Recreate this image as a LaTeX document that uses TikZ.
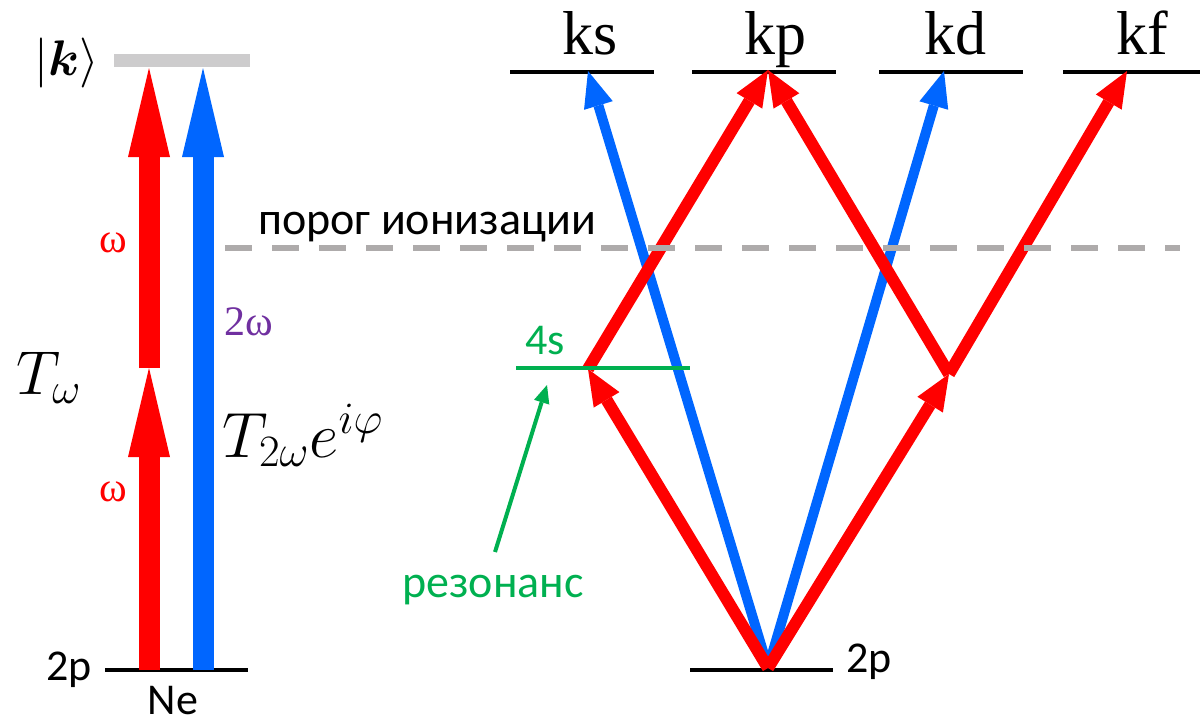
\RequirePackage{fix-cm}
\documentclass[tikz,border=0pt]{standalone}
\usepackage{amsmath,amssymb}
\usepackage{fontspec}
\setmainfont{Carlito}
\newfontfamily\serifgr{Liberation Serif}
\usepackage{xcolor}
\usepackage{tikz}
\usetikzlibrary{arrows.meta,positioning}

\definecolor{lred}{HTML}{FF0000}
\definecolor{lblue}{HTML}{0066FF}
\definecolor{lgreen}{HTML}{00B050}
\definecolor{lpurple}{HTML}{7030A0}
\definecolor{lgray}{HTML}{CDCCCD}
\definecolor{dgray}{HTML}{AEABAB}

\begin{document}
\begin{tikzpicture}[
  x=0.5pt, y=-0.5pt,
  lvl/.style={line width=2pt, black},
  wide/.style={line width=10.5pt, -{Triangle[length=44.5pt,width=21pt,line width=0pt]}},
  thin arr/.style={line width=#1, -{Triangle[length=18pt,width=15pt,line width=0pt]}},
  lbl/.style={font=\fontsize{22}{24}\selectfont, inner sep=0pt},
  klbl/.style={font=\serifgr\fontsize{31}{33}\selectfont, inner sep=0pt, anchor=base},
  greek/.style={font=\serifgr\fontsize{21}{23}\selectfont, inner sep=0pt}
]
  \useasboundingbox (0,0) rectangle (1200,724);

  % left scheme: two paths to |k>
  \coordinate (redlow)  at (149,670);
  \coordinate (redmid)  at (149,368);
  \coordinate (redtop)  at (149,68);
  \coordinate (bluelow) at (203,670);
  \coordinate (bluetop) at (203,68);

  \draw[line width=6.5pt, lgray] (114,60.5) -- (250,60.5);
  \draw[lvl] (105,670) -- (248,670);
  \draw[wide, lred] (redlow) -- (redmid);
  \draw[wide, lred] (redmid) -- (redtop);
  \draw[wide, lblue] (bluelow) -- (bluetop);

  \node[inner sep=0pt, font=\fontsize{25}{27}\selectfont] (kket) at (67,63) {$|\boldsymbol{k}\rangle$};
  \node[lbl, anchor=base] (gsL) at (69,680) {2p};
  \node[lbl, anchor=base] (ne) at (173,714) {Ne};
  \node[greek, text=lred] (om1) at (113,243) {ω};
  \node[greek, text=lred] (om2) at (113,492) {ω};
  \node[greek, text=lpurple, anchor=base] (om3) at (249,335) {2ω};
  \node[inner sep=0pt, anchor=base, font=\fontsize{31}{33}\selectfont] (tw) at (49,394) {$T_\omega$};
  \node[inner sep=0pt, anchor=base west, font=\fontsize{32}{34}\selectfont] (t2w) at (222,457) {$T_{2\omega}e^{i\varphi}$};

  % right scheme: partial waves
  \coordinate (G)   at (768,668);
  \coordinate (A)   at (588,369);
  \coordinate (B)   at (949,374);
  \coordinate (tks) at (588,71);
  \coordinate (tkp) at (768,70);
  \coordinate (tkd) at (944,71);
  \coordinate (tkf) at (1127,71);

  \draw[lvl] (510,72) -- (654,72);
  \draw[lvl] (692,72) -- (836,72);
  \draw[lvl] (879,72) -- (1023,72);
  \draw[lvl] (1063,72) -- (1200,72);
  \draw[lvl] (690,670) -- (833,670);

  \node[klbl] (ks) at (590,54) {ks};
  \node[klbl] (kp) at (775,54) {kp};
  \node[klbl] (kd) at (955,54) {kd};
  \node[klbl] (kf) at (1142,54) {kf};
  \node[lbl, anchor=base] (gsR) at (869,672) {2p};

  \draw[thin arr=5pt, lblue] (G) -- (tks);
  \draw[thin arr=5pt, lblue] (G) -- (tkd);
  \draw[thin arr=6pt, lred] (G) -- (A);
  \draw[thin arr=6pt, lred] (A) -- (tkp);
  \draw[thin arr=6pt, lred] (G) -- (B);
  \draw[thin arr=6pt, lred] (B) -- (tkp);
  \draw[thin arr=6pt, lred] (B) -- (tkf);

  % resonance 4s
  \draw[line width=1.8pt, lgreen] (516,368) -- (690,368);
  \node[lbl, text=lgreen, anchor=base, font=\fontsize{22}{24}\selectfont] (fours) at (545,354) {4s};
  \coordinate (restail) at (495,552);
  \coordinate (reshead) at (547,385);
  \draw[line width=2pt, lgreen, -{Triangle[length=9pt,width=8pt,line width=0pt]}] (restail) -- (reshead);
  \node[lbl, text=lgreen, anchor=base, font=\fontsize{23}{25}\selectfont] (res) at (493,597) {резонанс};

  % ionisation threshold
  \draw[line width=3pt, dgray, dash pattern=on 13.5pt off 10pt] (225,248) -- (1180,248);
  \node[lbl, anchor=base, font=\fontsize{23}{25}\selectfont] (thr) at (427,234) {порог ионизации};
\end{tikzpicture}
\end{document}
